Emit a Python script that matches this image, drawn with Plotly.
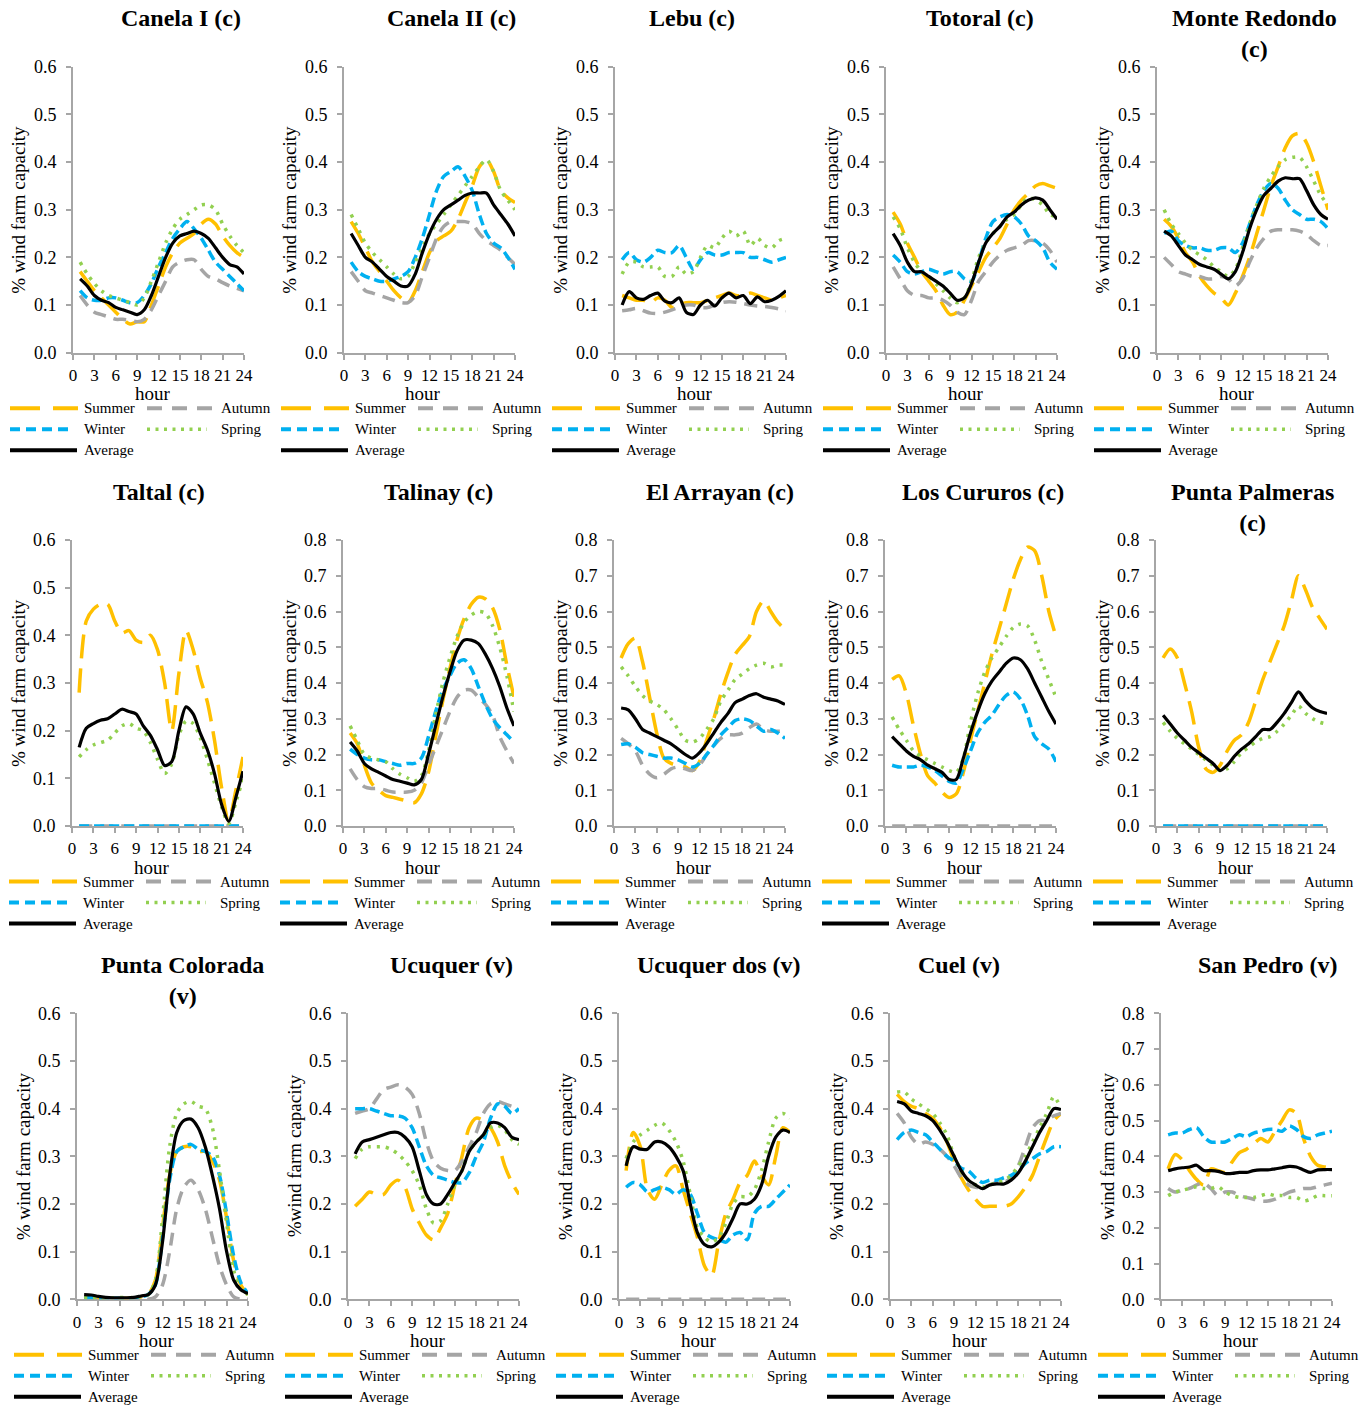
import plotly.graph_objects as go

# ---------------------------------------------------------------- data
HOURS = list(range(1, 25))
X_TICKS = [0, 3, 6, 9, 12, 15, 18, 21, 24]
SEASONS = ["Summer", "Autumn", "Winter", "Spring", "Average"]

# Canela I (c)
canela1_summer = [0.17, 0.15, 0.13, 0.115, 0.10, 0.085, 0.07, 0.06, 0.065, 0.065, 0.10, 0.14, 0.18, 0.21, 0.23, 0.24, 0.25, 0.27, 0.28, 0.27, 0.245, 0.225, 0.21, 0.20]
canela1_autumn = [0.12, 0.10, 0.085, 0.08, 0.075, 0.07, 0.07, 0.068, 0.065, 0.07, 0.09, 0.12, 0.15, 0.18, 0.19, 0.195, 0.195, 0.175, 0.16, 0.155, 0.147, 0.14, 0.135, 0.13]
canela1_winter = [0.13, 0.115, 0.11, 0.11, 0.115, 0.115, 0.11, 0.105, 0.105, 0.12, 0.145, 0.18, 0.21, 0.24, 0.26, 0.275, 0.26, 0.24, 0.215, 0.19, 0.175, 0.16, 0.145, 0.13]
canela1_spring = [0.19, 0.165, 0.145, 0.13, 0.12, 0.115, 0.11, 0.105, 0.10, 0.115, 0.15, 0.19, 0.23, 0.26, 0.28, 0.29, 0.30, 0.31, 0.31, 0.30, 0.27, 0.245, 0.225, 0.21]
canela1_average = [0.155, 0.14, 0.12, 0.11, 0.105, 0.095, 0.09, 0.085, 0.08, 0.09, 0.12, 0.16, 0.20, 0.23, 0.245, 0.25, 0.255, 0.25, 0.24, 0.22, 0.20, 0.185, 0.18, 0.165]

# Canela II (c)
canela2_summer = [0.275, 0.25, 0.22, 0.19, 0.17, 0.15, 0.13, 0.115, 0.105, 0.13, 0.17, 0.21, 0.235, 0.245, 0.255, 0.28, 0.315, 0.35, 0.39, 0.405, 0.38, 0.34, 0.325, 0.315]
canela2_autumn = [0.17, 0.15, 0.13, 0.125, 0.12, 0.115, 0.11, 0.105, 0.105, 0.12, 0.16, 0.20, 0.24, 0.265, 0.275, 0.275, 0.275, 0.27, 0.25, 0.235, 0.225, 0.215, 0.20, 0.185]
canela2_winter = [0.19, 0.17, 0.16, 0.155, 0.15, 0.15, 0.155, 0.16, 0.17, 0.20, 0.24, 0.29, 0.34, 0.37, 0.38, 0.39, 0.37, 0.34, 0.29, 0.25, 0.23, 0.22, 0.20, 0.175]
canela2_spring = [0.29, 0.26, 0.23, 0.21, 0.195, 0.18, 0.165, 0.155, 0.16, 0.19, 0.22, 0.25, 0.27, 0.29, 0.31, 0.33, 0.35, 0.37, 0.39, 0.405, 0.38, 0.34, 0.32, 0.30]
canela2_average = [0.25, 0.225, 0.20, 0.19, 0.175, 0.16, 0.15, 0.14, 0.14, 0.165, 0.21, 0.25, 0.28, 0.30, 0.31, 0.32, 0.33, 0.335, 0.335, 0.335, 0.31, 0.29, 0.27, 0.245]

# Lebu (c)
lebu_summer = [0.12, 0.115, 0.11, 0.11, 0.105, 0.115, 0.11, 0.095, 0.10, 0.105, 0.105, 0.105, 0.11, 0.115, 0.12, 0.125, 0.12, 0.12, 0.125, 0.12, 0.115, 0.11, 0.115, 0.12]
lebu_autumn = [0.088, 0.09, 0.093, 0.088, 0.083, 0.082, 0.085, 0.09, 0.095, 0.10, 0.10, 0.095, 0.095, 0.10, 0.105, 0.107, 0.106, 0.103, 0.10, 0.098, 0.097, 0.095, 0.092, 0.088]
lebu_winter = [0.195, 0.21, 0.195, 0.19, 0.20, 0.215, 0.21, 0.21, 0.225, 0.20, 0.175, 0.195, 0.21, 0.205, 0.205, 0.21, 0.21, 0.21, 0.20, 0.20, 0.195, 0.19, 0.195, 0.20]
lebu_spring = [0.165, 0.19, 0.19, 0.18, 0.18, 0.18, 0.16, 0.16, 0.18, 0.165, 0.17, 0.20, 0.225, 0.22, 0.24, 0.255, 0.245, 0.255, 0.225, 0.24, 0.225, 0.22, 0.235, 0.24]
lebu_average = [0.10, 0.128, 0.115, 0.112, 0.12, 0.125, 0.108, 0.105, 0.115, 0.085, 0.08, 0.10, 0.11, 0.098, 0.115, 0.125, 0.115, 0.12, 0.103, 0.117, 0.107, 0.11, 0.118, 0.13]

# Totoral (c)
totoral_summer = [0.295, 0.27, 0.23, 0.20, 0.17, 0.15, 0.13, 0.10, 0.08, 0.085, 0.11, 0.14, 0.17, 0.20, 0.22, 0.24, 0.27, 0.30, 0.32, 0.335, 0.35, 0.355, 0.35, 0.345]
totoral_autumn = [0.18, 0.155, 0.13, 0.12, 0.12, 0.115, 0.115, 0.11, 0.10, 0.085, 0.08, 0.11, 0.15, 0.17, 0.19, 0.205, 0.215, 0.22, 0.225, 0.235, 0.235, 0.23, 0.215, 0.19]
totoral_winter = [0.205, 0.19, 0.17, 0.165, 0.17, 0.175, 0.17, 0.165, 0.17, 0.17, 0.155, 0.15, 0.19, 0.24, 0.275, 0.285, 0.29, 0.285, 0.27, 0.245, 0.235, 0.22, 0.19, 0.175]
totoral_spring = [0.285, 0.26, 0.22, 0.19, 0.17, 0.16, 0.145, 0.13, 0.115, 0.105, 0.115, 0.15, 0.20, 0.23, 0.25, 0.265, 0.28, 0.29, 0.31, 0.325, 0.32, 0.31, 0.29, 0.285]
totoral_average = [0.25, 0.225, 0.19, 0.17, 0.17, 0.16, 0.15, 0.14, 0.125, 0.11, 0.115, 0.145, 0.19, 0.23, 0.25, 0.265, 0.285, 0.295, 0.31, 0.32, 0.325, 0.32, 0.30, 0.28]

# Monte Redondo (c)
monte_summer = [0.28, 0.265, 0.24, 0.21, 0.19, 0.16, 0.14, 0.125, 0.115, 0.10, 0.125, 0.16, 0.20, 0.25, 0.30, 0.35, 0.39, 0.43, 0.455, 0.46, 0.44, 0.40, 0.35, 0.30]
monte_autumn = [0.20, 0.185, 0.17, 0.165, 0.16, 0.16, 0.155, 0.155, 0.16, 0.155, 0.14, 0.155, 0.19, 0.22, 0.24, 0.255, 0.258, 0.258, 0.258, 0.255, 0.248, 0.235, 0.225, 0.225]
monte_winter = [0.25, 0.255, 0.235, 0.225, 0.22, 0.22, 0.215, 0.215, 0.22, 0.22, 0.21, 0.23, 0.27, 0.31, 0.34, 0.355, 0.345, 0.32, 0.30, 0.29, 0.28, 0.28, 0.275, 0.26]
monte_spring = [0.30, 0.27, 0.25, 0.23, 0.215, 0.205, 0.195, 0.18, 0.17, 0.16, 0.175, 0.22, 0.27, 0.31, 0.345, 0.37, 0.39, 0.405, 0.41, 0.41, 0.39, 0.36, 0.33, 0.31]
monte_average = [0.255, 0.245, 0.225, 0.205, 0.195, 0.185, 0.18, 0.175, 0.165, 0.155, 0.17, 0.21, 0.26, 0.30, 0.33, 0.345, 0.36, 0.367, 0.365, 0.365, 0.34, 0.31, 0.29, 0.28]

# Taltal (c)
taltal_summer = [0.28, 0.43, 0.455, 0.465, 0.465, 0.43, 0.405, 0.41, 0.39, 0.385, 0.40, 0.37, 0.30, 0.20, 0.32, 0.41, 0.37, 0.31, 0.26, 0.18, 0.08, 0.01, 0.075, 0.145]
taltal_autumn = [0.0, 0.0, 0.0, 0.0, 0.0, 0.0, 0.0, 0.0, 0.0, 0.0, 0.0, 0.0, 0.0, 0.0, 0.0, 0.0, 0.0, 0.0, 0.0, 0.0, 0.0, 0.0, 0.0, 0.0]
taltal_winter = [0.0, 0.0, 0.0, 0.0, 0.0, 0.0, 0.0, 0.0, 0.0, 0.0, 0.0, 0.0, 0.0, 0.0, 0.0, 0.0, 0.0, 0.0, 0.0, 0.0, 0.0, 0.0, 0.0, 0.0]
taltal_spring = [0.145, 0.16, 0.17, 0.175, 0.18, 0.195, 0.21, 0.215, 0.205, 0.20, 0.175, 0.14, 0.11, 0.13, 0.19, 0.22, 0.215, 0.185, 0.14, 0.09, 0.04, 0.005, 0.05, 0.10]
taltal_average = [0.165, 0.205, 0.215, 0.222, 0.225, 0.235, 0.245, 0.24, 0.235, 0.21, 0.19, 0.16, 0.127, 0.135, 0.20, 0.25, 0.235, 0.195, 0.16, 0.11, 0.045, 0.01, 0.06, 0.115]

# Talinay (c)
talinay_summer = [0.26, 0.23, 0.17, 0.12, 0.10, 0.085, 0.08, 0.075, 0.07, 0.065, 0.09, 0.15, 0.25, 0.35, 0.44, 0.52, 0.58, 0.62, 0.64, 0.635, 0.61, 0.55, 0.45, 0.36]
talinay_autumn = [0.16, 0.13, 0.11, 0.105, 0.105, 0.10, 0.095, 0.095, 0.095, 0.10, 0.12, 0.17, 0.22, 0.27, 0.32, 0.36, 0.38, 0.38, 0.36, 0.34, 0.31, 0.25, 0.21, 0.175]
talinay_winter = [0.215, 0.20, 0.19, 0.185, 0.185, 0.18, 0.175, 0.17, 0.175, 0.175, 0.19, 0.25, 0.32, 0.38, 0.42, 0.455, 0.465, 0.44, 0.39, 0.34, 0.30, 0.275, 0.255, 0.235]
talinay_spring = [0.28, 0.24, 0.20, 0.19, 0.185, 0.18, 0.16, 0.145, 0.135, 0.125, 0.14, 0.21, 0.31, 0.40, 0.47, 0.53, 0.57, 0.59, 0.60, 0.595, 0.56, 0.50, 0.42, 0.32]
talinay_average = [0.235, 0.21, 0.175, 0.16, 0.15, 0.14, 0.13, 0.125, 0.12, 0.115, 0.13, 0.20, 0.28, 0.36, 0.43, 0.49, 0.52, 0.52, 0.51, 0.48, 0.44, 0.39, 0.33, 0.28]

# El Arrayan (c)
arrayan_summer = [0.47, 0.51, 0.525, 0.46, 0.36, 0.26, 0.19, 0.175, 0.17, 0.165, 0.155, 0.18, 0.24, 0.30, 0.37, 0.43, 0.48, 0.505, 0.53, 0.60, 0.63, 0.60, 0.57, 0.55]
arrayan_autumn = [0.245, 0.23, 0.21, 0.17, 0.145, 0.135, 0.145, 0.16, 0.165, 0.16, 0.155, 0.17, 0.20, 0.225, 0.245, 0.255, 0.255, 0.26, 0.275, 0.285, 0.27, 0.265, 0.265, 0.265]
arrayan_winter = [0.228, 0.23, 0.22, 0.205, 0.20, 0.195, 0.19, 0.19, 0.185, 0.175, 0.165, 0.175, 0.20, 0.225, 0.255, 0.275, 0.295, 0.30, 0.295, 0.28, 0.265, 0.27, 0.26, 0.245]
arrayan_spring = [0.445, 0.42, 0.39, 0.365, 0.35, 0.34, 0.325, 0.30, 0.27, 0.24, 0.235, 0.245, 0.27, 0.30, 0.35, 0.38, 0.41, 0.425, 0.44, 0.45, 0.455, 0.445, 0.45, 0.45]
arrayan_average = [0.33, 0.325, 0.30, 0.27, 0.26, 0.25, 0.24, 0.23, 0.215, 0.20, 0.19, 0.205, 0.23, 0.26, 0.29, 0.315, 0.345, 0.355, 0.365, 0.37, 0.36, 0.355, 0.35, 0.34]

# Los Cururos (c)
cururos_summer = [0.41, 0.42, 0.37, 0.28, 0.20, 0.14, 0.12, 0.095, 0.08, 0.09, 0.15, 0.24, 0.32, 0.40, 0.48, 0.55, 0.62, 0.69, 0.745, 0.78, 0.77, 0.70, 0.60, 0.53]
cururos_autumn = [0.0, 0.0, 0.0, 0.0, 0.0, 0.0, 0.0, 0.0, 0.0, 0.0, 0.0, 0.0, 0.0, 0.0, 0.0, 0.0, 0.0, 0.0, 0.0, 0.0, 0.0, 0.0, 0.0, 0.0]
cururos_winter = [0.17, 0.165, 0.165, 0.165, 0.17, 0.165, 0.155, 0.14, 0.125, 0.12, 0.16, 0.21, 0.26, 0.29, 0.31, 0.34, 0.365, 0.375, 0.355, 0.31, 0.25, 0.23, 0.215, 0.18]
cururos_spring = [0.305, 0.27, 0.24, 0.21, 0.195, 0.185, 0.175, 0.165, 0.155, 0.15, 0.19, 0.29, 0.37, 0.43, 0.47, 0.50, 0.53, 0.555, 0.565, 0.56, 0.52, 0.46, 0.41, 0.36]
cururos_average = [0.25, 0.23, 0.21, 0.195, 0.185, 0.17, 0.16, 0.15, 0.13, 0.13, 0.19, 0.26, 0.32, 0.37, 0.405, 0.43, 0.455, 0.47, 0.465, 0.44, 0.40, 0.36, 0.32, 0.285]

# Punta Palmeras (c)
palmeras_summer = [0.47, 0.495, 0.47, 0.40, 0.32, 0.22, 0.16, 0.15, 0.17, 0.21, 0.24, 0.255, 0.29, 0.35, 0.41, 0.46, 0.51, 0.56, 0.63, 0.70, 0.66, 0.61, 0.58, 0.55]
palmeras_autumn = [0.0, 0.0, 0.0, 0.0, 0.0, 0.0, 0.0, 0.0, 0.0, 0.0, 0.0, 0.0, 0.0, 0.0, 0.0, 0.0, 0.0, 0.0, 0.0, 0.0, 0.0, 0.0, 0.0, 0.0]
palmeras_winter = [0.0, 0.0, 0.0, 0.0, 0.0, 0.0, 0.0, 0.0, 0.0, 0.0, 0.0, 0.0, 0.0, 0.0, 0.0, 0.0, 0.0, 0.0, 0.0, 0.0, 0.0, 0.0, 0.0, 0.0]
palmeras_spring = [0.29, 0.265, 0.245, 0.23, 0.215, 0.20, 0.185, 0.17, 0.155, 0.16, 0.18, 0.205, 0.22, 0.235, 0.245, 0.25, 0.265, 0.285, 0.31, 0.335, 0.315, 0.30, 0.29, 0.285]
palmeras_average = [0.31, 0.285, 0.26, 0.24, 0.22, 0.205, 0.19, 0.175, 0.155, 0.17, 0.195, 0.215, 0.23, 0.25, 0.27, 0.27, 0.29, 0.315, 0.345, 0.375, 0.35, 0.33, 0.32, 0.315]

# Punta Colorada (v)
colorada_summer = [0.005, 0.004, 0.003, 0.002, 0.002, 0.002, 0.002, 0.003, 0.005, 0.01, 0.04, 0.15, 0.26, 0.31, 0.32, 0.32, 0.31, 0.31, 0.29, 0.25, 0.17, 0.08, 0.03, 0.01]
colorada_autumn = [0.0, 0.0, 0.0, 0.0, 0.0, 0.0, 0.0, 0.0, 0.0, 0.0, 0.005, 0.03, 0.10, 0.19, 0.235, 0.25, 0.23, 0.19, 0.13, 0.07, 0.03, 0.005, 0.0, 0.0]
colorada_winter = [0.003, 0.003, 0.002, 0.002, 0.002, 0.002, 0.002, 0.003, 0.005, 0.01, 0.03, 0.13, 0.25, 0.31, 0.32, 0.325, 0.315, 0.31, 0.30, 0.26, 0.18, 0.09, 0.035, 0.012]
colorada_spring = [0.003, 0.003, 0.003, 0.003, 0.003, 0.004, 0.003, 0.004, 0.006, 0.01, 0.04, 0.17, 0.32, 0.39, 0.41, 0.415, 0.405, 0.40, 0.36, 0.27, 0.16, 0.06, 0.02, 0.01]
colorada_average = [0.01, 0.009, 0.006, 0.004, 0.003, 0.003, 0.003, 0.004, 0.007, 0.01, 0.03, 0.12, 0.26, 0.35, 0.375, 0.378, 0.36, 0.32, 0.26, 0.19, 0.10, 0.04, 0.02, 0.012]

# Ucuquer (v)
ucuquer_summer = [0.195, 0.21, 0.225, 0.22, 0.22, 0.24, 0.25, 0.235, 0.19, 0.16, 0.135, 0.125, 0.15, 0.18, 0.24, 0.30, 0.36, 0.38, 0.375, 0.36, 0.33, 0.28, 0.245, 0.22]
ucuquer_autumn = [0.39, 0.395, 0.40, 0.42, 0.44, 0.445, 0.45, 0.445, 0.43, 0.39, 0.33, 0.29, 0.275, 0.27, 0.27, 0.29, 0.32, 0.35, 0.39, 0.41, 0.415, 0.41, 0.405, 0.40]
ucuquer_winter = [0.40, 0.40, 0.40, 0.395, 0.39, 0.385, 0.385, 0.38, 0.36, 0.32, 0.28, 0.26, 0.255, 0.25, 0.245, 0.245, 0.265, 0.30, 0.33, 0.38, 0.41, 0.405, 0.39, 0.40]
ucuquer_spring = [0.295, 0.315, 0.32, 0.32, 0.32, 0.315, 0.305, 0.29, 0.27, 0.24, 0.19, 0.16, 0.165, 0.20, 0.24, 0.27, 0.31, 0.33, 0.345, 0.36, 0.365, 0.355, 0.335, 0.325]
ucuquer_average = [0.305, 0.33, 0.335, 0.34, 0.345, 0.35, 0.35, 0.34, 0.32, 0.27, 0.22, 0.20, 0.20, 0.22, 0.245, 0.27, 0.31, 0.33, 0.345, 0.37, 0.37, 0.36, 0.34, 0.335]

# Ucuquer dos (v)
ucuquer2_summer = [0.27, 0.35, 0.32, 0.23, 0.21, 0.24, 0.27, 0.28, 0.23, 0.18, 0.13, 0.07, 0.05, 0.12, 0.18, 0.21, 0.245, 0.26, 0.29, 0.26, 0.24, 0.30, 0.36, 0.35]
ucuquer2_autumn = [0.0, 0.0, 0.0, 0.0, 0.0, 0.0, 0.0, 0.0, 0.0, 0.0, 0.0, 0.0, 0.0, 0.0, 0.0, 0.0, 0.0, 0.0, 0.0, 0.0, 0.0, 0.0, 0.0, 0.0]
ucuquer2_winter = [0.235, 0.245, 0.24, 0.225, 0.23, 0.235, 0.23, 0.22, 0.23, 0.22, 0.18, 0.14, 0.13, 0.125, 0.12, 0.135, 0.14, 0.125, 0.18, 0.195, 0.195, 0.21, 0.225, 0.24]
ucuquer2_spring = [0.295, 0.33, 0.345, 0.355, 0.365, 0.37, 0.355, 0.33, 0.29, 0.22, 0.15, 0.13, 0.12, 0.13, 0.16, 0.20, 0.215, 0.215, 0.23, 0.27, 0.33, 0.38, 0.39, 0.38]
ucuquer2_average = [0.28, 0.32, 0.315, 0.315, 0.33, 0.33, 0.32, 0.30, 0.27, 0.20, 0.14, 0.115, 0.11, 0.12, 0.14, 0.17, 0.20, 0.20, 0.21, 0.24, 0.30, 0.34, 0.355, 0.35]

# Cuel (v)
cuel_summer = [0.43, 0.415, 0.405, 0.40, 0.39, 0.38, 0.36, 0.33, 0.29, 0.255, 0.23, 0.21, 0.195, 0.195, 0.195, 0.195, 0.20, 0.215, 0.235, 0.26, 0.30, 0.34, 0.375, 0.39]
cuel_autumn = [0.39, 0.37, 0.34, 0.325, 0.33, 0.325, 0.315, 0.30, 0.28, 0.255, 0.24, 0.235, 0.235, 0.24, 0.245, 0.245, 0.255, 0.28, 0.32, 0.36, 0.375, 0.375, 0.385, 0.39]
cuel_winter = [0.335, 0.35, 0.355, 0.35, 0.345, 0.33, 0.315, 0.30, 0.29, 0.275, 0.27, 0.255, 0.245, 0.25, 0.25, 0.255, 0.26, 0.27, 0.285, 0.295, 0.305, 0.31, 0.32, 0.32]
cuel_spring = [0.435, 0.435, 0.42, 0.41, 0.40, 0.39, 0.37, 0.345, 0.30, 0.27, 0.25, 0.24, 0.235, 0.24, 0.245, 0.25, 0.26, 0.28, 0.30, 0.33, 0.36, 0.39, 0.425, 0.40]
cuel_average = [0.415, 0.41, 0.395, 0.39, 0.385, 0.375, 0.355, 0.33, 0.30, 0.27, 0.25, 0.24, 0.232, 0.24, 0.242, 0.242, 0.25, 0.265, 0.29, 0.32, 0.35, 0.375, 0.40, 0.398]

# San Pedro (v)
sanpedro_summer = [0.365, 0.405, 0.39, 0.36, 0.335, 0.32, 0.365, 0.36, 0.355, 0.385, 0.41, 0.42, 0.435, 0.45, 0.44, 0.47, 0.50, 0.53, 0.52, 0.45, 0.40, 0.375, 0.37, 0.365]
sanpedro_autumn = [0.31, 0.30, 0.305, 0.31, 0.32, 0.325, 0.31, 0.29, 0.30, 0.30, 0.29, 0.285, 0.28, 0.275, 0.275, 0.28, 0.29, 0.30, 0.305, 0.31, 0.31, 0.315, 0.32, 0.325]
sanpedro_winter = [0.46, 0.465, 0.465, 0.475, 0.48, 0.455, 0.44, 0.44, 0.44, 0.45, 0.46, 0.455, 0.465, 0.47, 0.475, 0.475, 0.47, 0.485, 0.475, 0.455, 0.45, 0.46, 0.465, 0.47]
sanpedro_spring = [0.29, 0.30, 0.305, 0.31, 0.315, 0.31, 0.31, 0.315, 0.30, 0.29, 0.285, 0.285, 0.285, 0.29, 0.295, 0.29, 0.29, 0.285, 0.285, 0.275, 0.28, 0.29, 0.29, 0.29]
sanpedro_average = [0.36, 0.365, 0.368, 0.37, 0.375, 0.36, 0.36, 0.358, 0.352, 0.352, 0.355, 0.355, 0.36, 0.362, 0.362, 0.365, 0.368, 0.372, 0.37, 0.362, 0.355, 0.362, 0.363, 0.363]

FARM_TITLES = [
    "Canela I (c)", "Canela II (c)", "Lebu (c)", "Totoral (c)", "Monte Redondo<br>(c)",
    "Taltal (c)", "Talinay (c)", "El Arrayan (c)", "Los Cururos (c)", "Punta Palmeras<br>(c)",
    "Punta Colorada<br>(v)", "Ucuquer (v)", "Ucuquer dos (v)", "Cuel (v)", "San Pedro (v)",
]
Y_MAX = [0.6, 0.6, 0.6, 0.6, 0.6,
         0.6, 0.8, 0.8, 0.8, 0.8,
         0.6, 0.6, 0.6, 0.6, 0.8]
Y_TITLES = ["% wind farm capacity"] * 11 + ["%wind farm capacity"] + ["% wind farm capacity"] * 3

FARM_SERIES = [
    [canela1_summer, canela1_autumn, canela1_winter, canela1_spring, canela1_average],
    [canela2_summer, canela2_autumn, canela2_winter, canela2_spring, canela2_average],
    [lebu_summer, lebu_autumn, lebu_winter, lebu_spring, lebu_average],
    [totoral_summer, totoral_autumn, totoral_winter, totoral_spring, totoral_average],
    [monte_summer, monte_autumn, monte_winter, monte_spring, monte_average],
    [taltal_summer, taltal_autumn, taltal_winter, taltal_spring, taltal_average],
    [talinay_summer, talinay_autumn, talinay_winter, talinay_spring, talinay_average],
    [arrayan_summer, arrayan_autumn, arrayan_winter, arrayan_spring, arrayan_average],
    [cururos_summer, cururos_autumn, cururos_winter, cururos_spring, cururos_average],
    [palmeras_summer, palmeras_autumn, palmeras_winter, palmeras_spring, palmeras_average],
    [colorada_summer, colorada_autumn, colorada_winter, colorada_spring, colorada_average],
    [ucuquer_summer, ucuquer_autumn, ucuquer_winter, ucuquer_spring, ucuquer_average],
    [ucuquer2_summer, ucuquer2_autumn, ucuquer2_winter, ucuquer2_spring, ucuquer2_average],
    [cuel_summer, cuel_autumn, cuel_winter, cuel_spring, cuel_average],
    [sanpedro_summer, sanpedro_autumn, sanpedro_winter, sanpedro_spring, sanpedro_average],
]

# ---------------------------------------------------------------- styling
W, H = 1362, 1406
FONT = "Liberation Serif"
AXIS_COLOR = "#A6A6A6"

LINE_STYLE = {
    "Summer": dict(color="#FFC000", width=3.5, dash="24px,10px"),
    "Autumn": dict(color="#A5A5A5", width=3.5, dash="13px,8px"),
    "Winter": dict(color="#00B0F0", width=3.5, dash="10px,5px"),
    "Spring": dict(color="#92D050", width=3.5, dash="3px,6px"),
    "Average": dict(color="#000000", width=3.2, dash="solid"),
}
LEGEND_STYLE = {
    "Summer": dict(color="#FFC000", width=4, dash="30px,13px"),
    "Autumn": dict(color="#A5A5A5", width=4, dash="15px,10px"),
    "Winter": dict(color="#00B0F0", width=4, dash="10px,6px"),
    "Spring": dict(color="#92D050", width=3.5, dash="3px,5.5px"),
    "Average": dict(color="#000000", width=4, dash="solid"),
}

# panel geometry in pixels
ROW_X0 = [73, 72, 77]          # left edge of the first plot in each row
COL_STEP = 271
PLOT_W = 171
ROW_TOP = [66.7, 540, 1013.3]
PLOT_H = 286
TITLE_X = [181, 451, 692, 980, 1254,
           159, 438, 720, 983, 1252,
           182, 451, 719, 959, 1268]
TITLE_TOP = [3, 477, 950]


def px(x):
    return x / W


def py(y):
    return 1 - y / H


fig = go.Figure()
layout = dict(
    width=W, height=H, autosize=False,
    margin=dict(l=0, r=0, t=0, b=0),
    paper_bgcolor="white", plot_bgcolor="white",
    showlegend=False,
    font=dict(family=FONT, color="black"),
)
annotations = []
shapes = []

for i, series in enumerate(FARM_SERIES):
    r, c = divmod(i, 5)
    suffix = "" if i == 0 else str(i + 1)
    x_left = ROW_X0[r] + COL_STEP * c
    x_right = x_left + PLOT_W
    y_top = ROW_TOP[r]
    y_bot = y_top + PLOT_H

    for name, values in zip(SEASONS, series):
        st = LINE_STYLE[name]
        fig.add_trace(go.Scatter(
            x=HOURS, y=values, name=name, mode="lines",
            xaxis="x" + suffix, yaxis="y" + suffix,
            line=dict(color=st["color"], width=st["width"], dash=st["dash"],
                      shape="spline", smoothing=0.8),
            showlegend=False,
        ))

    layout["xaxis" + suffix] = dict(
        domain=[px(x_left), px(x_right)], anchor="y" + suffix,
        range=[0, 24], tickmode="array", tickvals=X_TICKS,
        ticks="outside", ticklen=5, tickwidth=1.5, tickcolor=AXIS_COLOR,
        showline=True, linecolor=AXIS_COLOR, linewidth=2,
        showgrid=False, zeroline=False, layer="below traces",
        automargin=False,
        tickfont=dict(family=FONT, size=17, color="black"),
        ticklabelstandoff=1,
    )
    layout["yaxis" + suffix] = dict(
        domain=[py(y_bot), py(y_top)], anchor="x" + suffix,
        range=[0, Y_MAX[i]], tickmode="linear", tick0=0, dtick=0.1,
        tickformat=".1f",
        ticks="outside", ticklen=5, tickwidth=1.5, tickcolor=AXIS_COLOR,
        showline=True, linecolor=AXIS_COLOR, linewidth=2,
        showgrid=False, zeroline=False, layer="below traces",
        automargin=False,
        tickfont=dict(family=FONT, size=18, color="black"),
        ticklabelstandoff=6,
    )

    # panel title
    annotations.append(dict(
        text="<b>" + FARM_TITLES[i] + "</b>", xref="paper", yref="paper",
        x=px(TITLE_X[i]), y=py(TITLE_TOP[r]), xanchor="center", yanchor="top",
        showarrow=False, font=dict(family=FONT, size=24, color="black"),
    ))
    # y axis title
    annotations.append(dict(
        text=Y_TITLES[i], xref="paper", yref="paper",
        x=px(x_left - 54), y=py((y_top + y_bot) / 2), xanchor="center", yanchor="middle",
        textangle=-90, showarrow=False, font=dict(family=FONT, size=19, color="black"),
    ))
    # x axis title
    annotations.append(dict(
        text="hour", xref="paper", yref="paper",
        x=px(x_left + PLOT_W / 2 - 6), y=py(y_bot + 41), xanchor="center", yanchor="middle",
        showarrow=False, font=dict(family=FONT, size=19, color="black"),
    ))

    # legend block under each panel
    lx = x_left - 63
    rows = [
        [("Summer", 0, 68, 72), ("Autumn", 137, 203, 209)],
        [("Winter", 0, 58, 72), ("Spring", 137, 197, 209)],
        [("Average", 0, 67, 72)],
    ]
    for k, row in enumerate(rows):
        ly = y_bot + 55.5 + 21 * k
        for name, s0, s1, tx in row:
            st = LEGEND_STYLE[name]
            shapes.append(dict(
                type="line", xref="paper", yref="paper",
                x0=px(lx + s0), x1=px(lx + s1), y0=py(ly), y1=py(ly),
                line=dict(color=st["color"], width=st["width"], dash=st["dash"]),
            ))
            annotations.append(dict(
                text=name, xref="paper", yref="paper",
                x=px(lx + tx), y=py(ly), xanchor="left", yanchor="middle",
                showarrow=False, font=dict(family=FONT, size=15, color="black"),
            ))

layout["annotations"] = annotations
layout["shapes"] = shapes
fig.update_layout(**layout)
fig.write_html("out.html")
